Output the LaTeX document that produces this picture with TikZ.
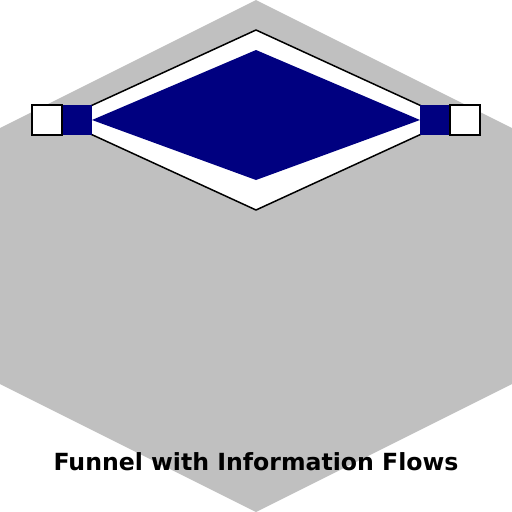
\documentclass[tikz,border=0pt]{standalone}
\usepackage{fontspec}
\setmainfont{DejaVu Sans}
\definecolor{hexgray}{HTML}{C0C0C0}
\definecolor{flownavy}{HTML}{000080}
\tikzset{
  portbox/.style={draw=black, line width=1.5pt, fill=white, minimum size=30pt, inner sep=0pt},
  flowbox/.style={fill=flownavy, minimum size=30pt, inner sep=0pt},
}
\begin{document}
\begin{tikzpicture}[x=1pt,y=-1pt]
	\useasboundingbox (0,0) rectangle (512,512);
	\fill[hexgray] (256,0) -- (512,128) -- (512,384) -- (256,512) -- (0,384) -- (0,128) -- cycle;
	\draw[fill=white, line width=1.5pt] (256,30) -- (452,120) -- (256,210) -- (60,120) -- cycle;
	\fill[flownavy] (256,50) -- (420,120) -- (256,180) -- (92,120) -- cycle;
	\node[flowbox] (inl) at (77,120) {};
	\node[portbox] (inp) at (47,120) {};
	\node[flowbox] (outl) at (435,120) {};
	\node[portbox] (outp) at (465,120) {};
	\node[font=\bfseries\fontsize{23.6}{28}\selectfont] (title) at (256,462) {Funnel with Information Flows};
\end{tikzpicture}
\end{document}
